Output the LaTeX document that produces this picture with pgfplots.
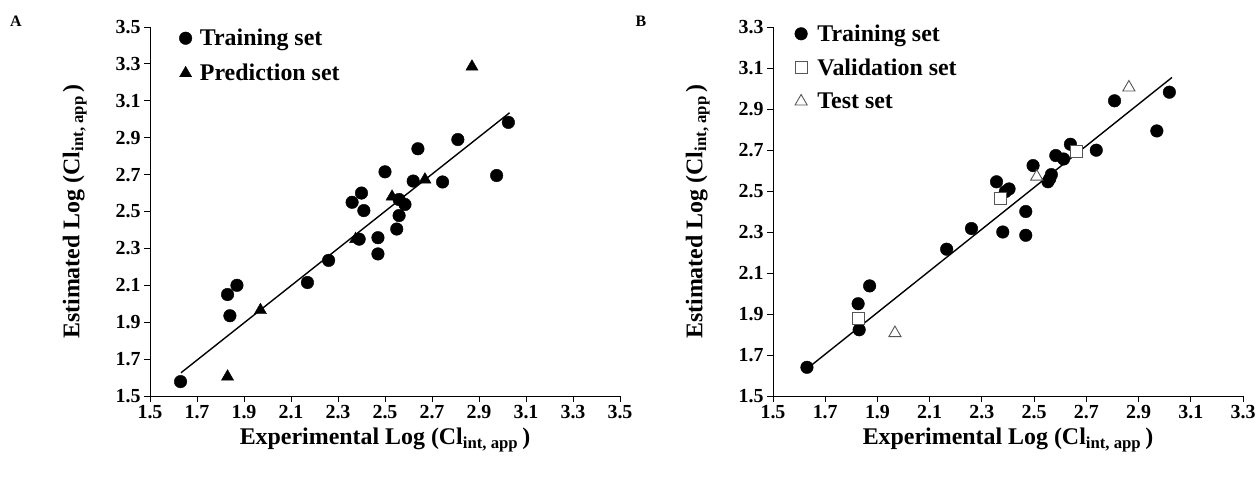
\documentclass[border=0pt]{standalone}
\usepackage{fontspec}
\setmainfont{Liberation Serif}
\usepackage{pgfplots}
\pgfplotsset{compat=1.18}
\definecolor{mkgray}{RGB}{85,85,85}
\newcommand\tickfont{\fontsize{20}{20}\selectfont\bfseries}
\newcommand\labfont{\fontsize{24}{24}\selectfont\bfseries}
\newcommand\legfont{\fontsize{24}{24}\selectfont\bfseries}

\pgfplotstableread{
x y
1.63 1.578
1.83 2.05
1.84 1.935
1.87 2.10
2.17 2.115
2.26 2.235
2.36 2.55
2.39 2.35
2.40 2.60
2.41 2.505
2.47 2.358
2.47 2.27
2.50 2.715
2.55 2.405
2.56 2.478
2.56 2.565
2.585 2.538
2.62 2.665
2.64 2.84
2.745 2.66
2.81 2.89
2.975 2.695
3.025 2.983
}\trainA

\pgfplotstableread{
x y
1.83 1.605
1.97 1.965
2.375 2.35
2.53 2.58
2.67 2.673
2.87 3.285
}\predA

\pgfplotstableread{
x y
1.63 1.64
1.83 1.823
1.826 1.95
1.87 2.037
2.165 2.216
2.26 2.317
2.356 2.545
2.38 2.30
2.39 2.497
2.404 2.51
2.468 2.284
2.468 2.40
2.496 2.624
2.553 2.545
2.56 2.56
2.566 2.58
2.583 2.673
2.613 2.656
2.639 2.728
2.738 2.699
2.808 2.94
2.97 2.793
3.018 2.982
}\trainB

\pgfplotstableread{
x y
1.828 1.88
2.37 2.464
2.662 2.695
}\valB

\pgfplotstableread{
x y
1.967 1.807
2.51 2.57
2.863 3.005
}\testB

\begin{document}
\begin{tikzpicture}
\useasboundingbox (0,0) rectangle (1258bp,479bp);
\pgfplotsset{
  panel/.style={
    scale only axis, width=470bp, height=369bp,
    anchor=south west,
    axis lines=left,
    axis line style={-, line width=0.9pt, black},
    tick align=outside,
    major tick length=6bp,
    tick style={line width=0.9pt, black},
    ticklabel style={font=\tickfont},
    /pgf/number format/.cd, fixed, fixed zerofill, precision=1, assume math mode=true,
    /pgfplots/.cd,
    xlabel style={font=\labfont, at={(axis description cs:0.5,-0.12)}, anchor=center},
    ylabel style={font=\labfont, at={(axis description cs:-0.16,0.5)}, anchor=center},
    xlabel={Experimental Log (Cl\textsubscript{int, app}\,)},
    ylabel={Estimated Log (Cl\textsubscript{int, app}\,)},
    legend cell align=left,
    legend style={draw=none, fill=none, font=\legfont, inner sep=0pt, row sep=13bp},
    clip=false,
  }
}
\begin{axis}[panel, at={(150bp,83bp)},
  xmin=1.5, xmax=3.5, ymin=1.5, ymax=3.5,
  xtick={1.5,1.7,1.9,2.1,2.3,2.5,2.7,2.9,3.1,3.3,3.5},
  ytick={1.5,1.7,1.9,2.1,2.3,2.5,2.7,2.9,3.1,3.3,3.5},
  legend style={at={(axis description cs:0.062,1.0)}, anchor=north west}]
\addplot[black, line width=1.4pt, no marks, forget plot] coordinates {(1.632,1.626) (3.03,3.035)};
\addplot[only marks, mark=*, mark size=6.3bp, black] table {\trainA};
\addlegendentry{\hspace{6bp}Training set}
\addplot[only marks, mark=triangle*, mark size=7bp, black] table {\predA};
\addlegendentry{\hspace{6bp}Prediction set}
\end{axis}

\begin{axis}[panel, at={(773bp,83bp)},
  xmin=1.5, xmax=3.3, ymin=1.5, ymax=3.3,
  xtick={1.5,1.7,1.9,2.1,2.3,2.5,2.7,2.9,3.1,3.3},
  ytick={1.5,1.7,1.9,2.1,2.3,2.5,2.7,2.9,3.1,3.3},
  legend style={at={(axis description cs:0.046,1.012)}, anchor=north west, row sep=12bp}]
\addplot[black, line width=1.4pt, no marks, forget plot] coordinates {(1.645,1.648) (3.028,3.054)};
\addplot[only marks, mark=*, mark size=6.3bp, black] table {\trainB};
\addlegendentry{\hspace{8bp}Training set}
\addplot[only marks, mark=square*, mark size=6bp, mkgray, mark options={fill=white, line width=0.9pt}] table {\valB};
\addlegendentry{\hspace{8bp}Validation set}
\addplot[only marks, mark=triangle*, mark size=7bp, mkgray, mark options={fill=white, line width=0.9pt}] table {\testB};
\addlegendentry{\hspace{8bp}Test set}
\end{axis}

\node[font=\fontsize{16}{16}\selectfont\bfseries] at (16bp,458bp) {A};
\node[font=\fontsize{16}{16}\selectfont\bfseries] at (641bp,458bp) {B};
\end{tikzpicture}
\end{document}
